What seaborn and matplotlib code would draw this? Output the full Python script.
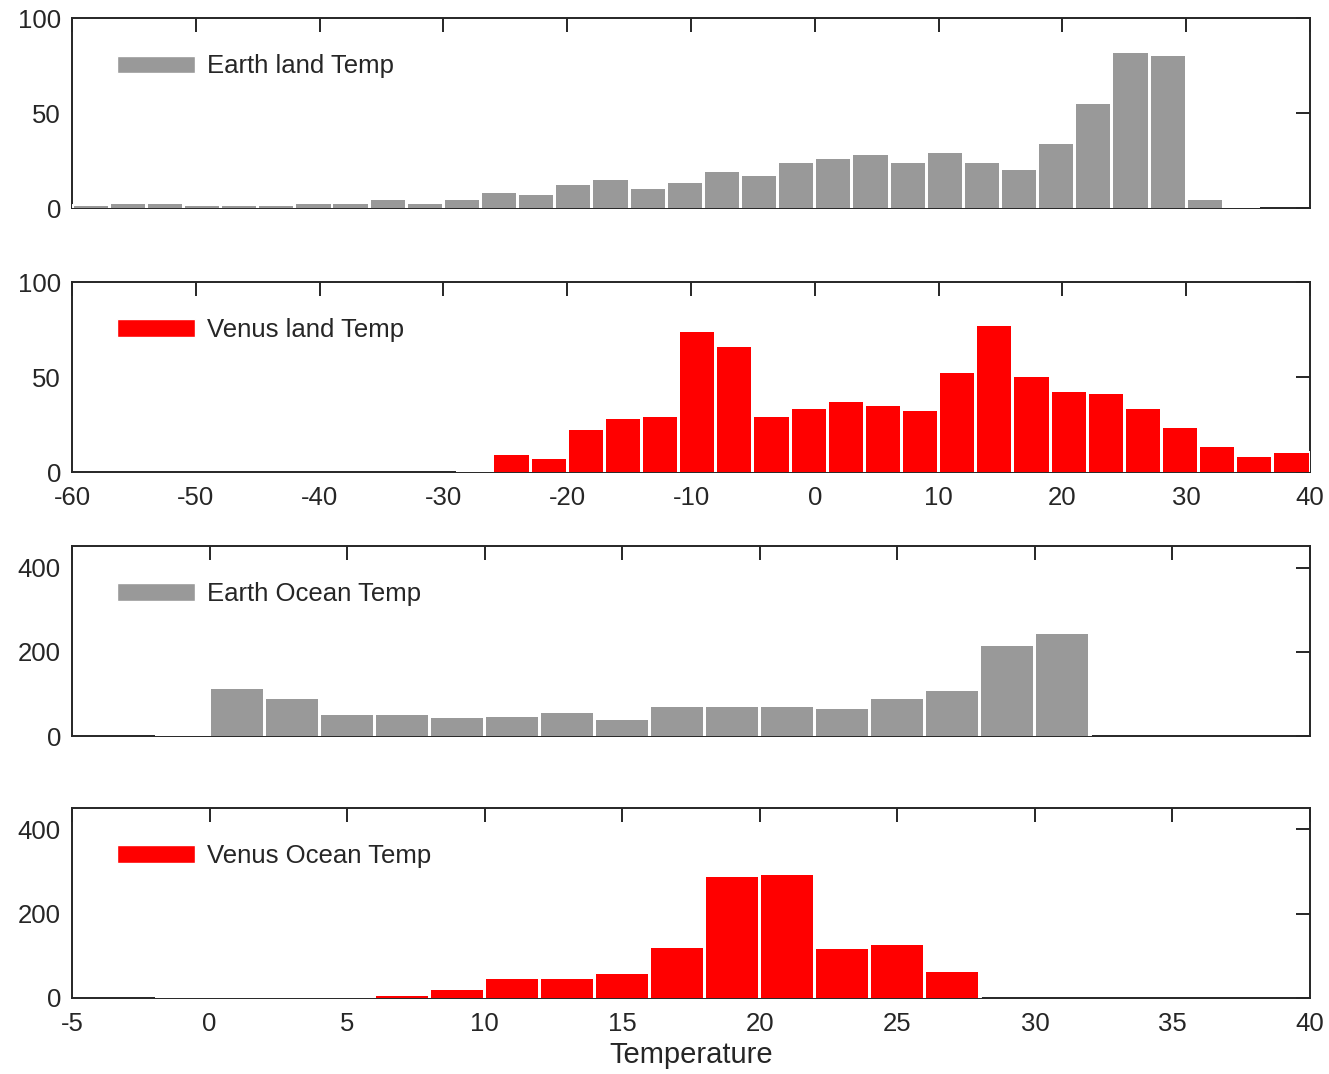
import numpy as np
import pandas as pd
import matplotlib
matplotlib.use("Agg")
import matplotlib.pyplot as plt
import matplotlib.patches as mpatches
import seaborn as sns

# left bin edges and counts
earth_land_left = list(range(-60, 36, 3))
earth_land_counts = [1, 2, 2, 1, 1, 1, 2, 2, 4, 2, 4, 8, 7, 12, 15, 10,
                     13, 19, 17, 24, 26, 28, 24, 29, 24, 20, 34, 55, 82, 80, 4, 0]

venus_land_left = list(range(-29, 40, 3))
venus_land_counts = [0, 9, 7, 22, 28, 29, 74, 66, 29, 33, 37, 35, 32, 52,
                     77, 50, 42, 41, 33, 23, 13, 8, 10]

earth_ocean_left = list(range(-2, 32, 2))
earth_ocean_counts = [0, 111, 87, 50, 51, 42, 45, 54, 39, 68, 68, 70, 65,
                      88, 107, 213, 241]

venus_ocean_left = list(range(-2, 28, 2))
venus_ocean_counts = [0, 0, 1, 0, 4, 19, 45, 45, 56, 119, 288, 293, 117, 126, 62]

labels = ["Earth land Temp", "Venus land Temp", "Earth Ocean Temp", "Venus Ocean Temp"]
GRAY = "#999999"
RED = "#ff0000"
INK = "#262626"

sns.set_style("white")
plt.rcParams["font.family"] = ["Liberation Sans", "DejaVu Sans"]
plt.rcParams["axes.unicode_minus"] = False

fig = plt.figure(figsize=(13.29, 10.74), dpi=100)

panels = [
    (earth_land_left, earth_land_counts, 3, GRAY, (-60, 40), 100, np.arange(-60, 41, 10), [0, 50, 100], False, 0.92),
    (venus_land_left, venus_land_counts, 3, RED, (-60, 40), 100, np.arange(-60, 41, 10), [0, 50, 100], True, 0.92),
    (earth_ocean_left, earth_ocean_counts, 2, GRAY, (-5, 40), 450, np.arange(-5, 41, 5), [0, 200, 400], False, 0.945),
    (venus_ocean_left, venus_ocean_counts, 2, RED, (-5, 40), 450, np.arange(-5, 41, 5), [0, 200, 400], True, 0.945),
]
bottoms = [0.8063, 0.5605, 0.3147, 0.0708]

for i, (left, counts, w, color, xlim, ytop, xt, yt, show_x, shrink) in enumerate(panels):
    ax = fig.add_axes([0.0542, bottoms[i], 0.9315, 0.1765])
    df = pd.DataFrame({"temp": np.array(left, dtype=float) + w / 2, "count": counts})
    edges = list(left) + [left[-1] + w]
    # white backing pass hides the axis line under the histogram's bins
    sns.histplot(data=df, x="temp", weights="count", bins=edges, color="white",
                 alpha=1, edgecolor="white", linewidth=2.8, zorder=3, ax=ax)
    sns.histplot(data=df, x="temp", weights="count", bins=edges, color=color,
                 alpha=1, linewidth=0, shrink=shrink, zorder=4, ax=ax)
    ax.set_xlim(*xlim)
    ax.set_ylim(0, ytop)
    ax.set_xticks(xt)
    ax.set_yticks(yt)
    ax.set_ylabel("")
    ax.set_xlabel("")
    for s in ax.spines.values():
        s.set_visible(True)
        s.set_linewidth(1.4)
        s.set_color(INK)
    ax.tick_params(direction="in", top=True, right=True, length=10, width=1.4,
                   color=INK, labelcolor=INK, labelsize=18.5)
    ax.tick_params(axis="x", pad=10, labelbottom=show_x)
    ax.tick_params(axis="y", pad=8)
    ax.legend(handles=[mpatches.Patch(facecolor=color, label=labels[i])],
              loc="upper left", bbox_to_anchor=(0.036, 0.81), frameon=False,
              fontsize=18.5, handlelength=3.07, handleheight=0.7,
              handletextpad=0.43, borderpad=0, borderaxespad=0)
    if i == 3:
        ax.set_xlabel("Temperature", fontsize=21, color=INK, labelpad=4)

fig.savefig("out.png", dpi=100)
